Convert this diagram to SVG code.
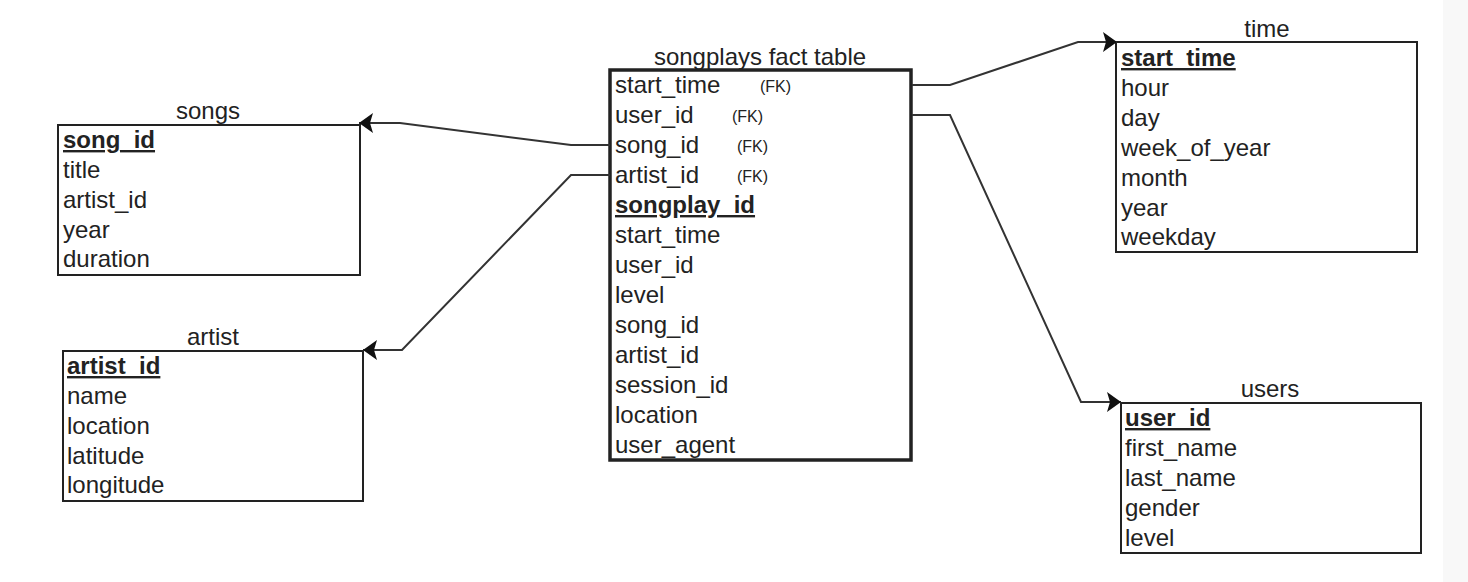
<svg xmlns="http://www.w3.org/2000/svg" width="1468" height="582" viewBox="0 0 1468 582">
<style>
text{font-family:"Liberation Sans",Arial,Helvetica,sans-serif;font-size:24px;fill:#222}
.t{text-anchor:middle}
.pk{font-weight:bold;text-decoration:underline}
.fk{font-size:16px}
.box{fill:#fff;stroke:#222;stroke-width:2}
.fact{fill:#fff;stroke:#222;stroke-width:3.5}
.c{fill:none;stroke:#333;stroke-width:2;marker-end:url(#arr)}
</style>
<defs>
<marker id="arr" viewBox="0 0 14 20" refX="14" refY="10" markerWidth="14" markerHeight="20" orient="auto" markerUnits="userSpaceOnUse">
<path d="M0,0 L14,10 L0,20 L3,10 Z" fill="#111"/>
</marker>
</defs>
<rect x="0" y="0" width="1468" height="582" fill="#fff"/>
<rect x="1443" y="0" width="25" height="582" fill="#f8f8f8"/>

<g id="songs">
<text class="t" x="208" y="119">songs</text>
<rect class="box" x="58" y="125" width="302" height="150"/>
<text class="pk" x="63" y="148">song_id</text>
<text x="63" y="178">title</text>
<text x="63" y="208">artist_id</text>
<text x="63" y="238">year</text>
<text x="63" y="267">duration</text>
</g>

<g id="artist">
<text class="t" x="213" y="345">artist</text>
<rect class="box" x="63" y="351" width="300" height="150"/>
<text class="pk" x="67" y="374">artist_id</text>
<text x="67" y="404">name</text>
<text x="67" y="434">location</text>
<text x="67" y="464">latitude</text>
<text x="67" y="493">longitude</text>
</g>

<g id="songplays">
<text class="t" x="760" y="65">songplays fact table</text>
<rect class="fact" x="610" y="70" width="301" height="390"/>
<text x="615" y="93">start_time</text><text class="fk" x="760" y="92">(FK)</text>
<text x="615" y="123">user_id</text><text class="fk" x="732" y="122">(FK)</text>
<text x="615" y="153">song_id</text><text class="fk" x="737" y="152">(FK)</text>
<text x="615" y="183">artist_id</text><text class="fk" x="737" y="182">(FK)</text>
<text class="pk" x="615" y="213">songplay_id</text>
<text x="615" y="243">start_time</text>
<text x="615" y="273">user_id</text>
<text x="615" y="303">level</text>
<text x="615" y="333">song_id</text>
<text x="615" y="363">artist_id</text>
<text x="615" y="393">session_id</text>
<text x="615" y="423">location</text>
<text x="615" y="453">user_agent</text>
</g>

<g id="time">
<text class="t" x="1267" y="37">time</text>
<rect class="box" x="1116" y="42" width="301" height="210"/>
<text class="pk" x="1121" y="66">start_time</text>
<text x="1121" y="96">hour</text>
<text x="1121" y="126">day</text>
<text x="1121" y="156">week_of_year</text>
<text x="1121" y="186">month</text>
<text x="1121" y="216">year</text>
<text x="1121" y="245">weekday</text>
</g>

<g id="users">
<text class="t" x="1270" y="397">users</text>
<rect class="box" x="1121" y="403" width="300" height="150"/>
<text class="pk" x="1125" y="426">user_id</text>
<text x="1125" y="456">first_name</text>
<text x="1125" y="486">last_name</text>
<text x="1125" y="516">gender</text>
<text x="1125" y="546">level</text>
</g>

<g id="connectors">
<polyline class="c" points="610,145 571,145 400,123 359,123"/>
<polyline class="c" points="610,175 571,175 402,350 363,350"/>
<polyline class="c" points="912,85 950,85 1078,42 1117,42"/>
<polyline class="c" points="912,115 950,115 1081,402 1121,402"/>
</g>
</svg>
